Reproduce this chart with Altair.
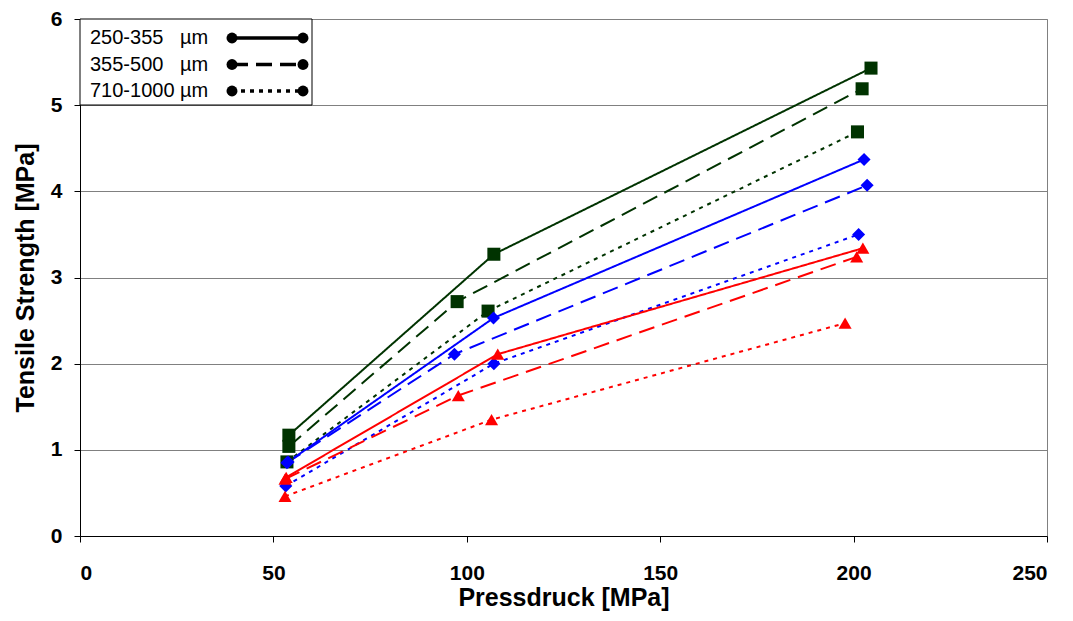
import altair as alt
import pandas as pd

# ---- data ----
size_labels = ["250-355\u00a0\u00a0\u00a0µm", "355-500\u00a0\u00a0\u00a0µm", "710-1000 µm"]
materials = ["green", "blue", "red"]

green_solid_x = [54.0, 107.0, 204.5]
green_solid_y = [1.17, 3.27, 5.43]
green_dashed_x = [54.0, 97.5, 202.2]
green_dashed_y = [1.04, 2.72, 5.19]
green_dotted_x = [53.5, 105.5, 201.0]
green_dotted_y = [0.86, 2.61, 4.69]

blue_solid_x = [53.8, 106.9, 202.7]
blue_solid_y = [0.86, 2.53, 4.37]
blue_dashed_x = [53.5, 96.8, 203.5]
blue_dashed_y = [0.85, 2.11, 4.07]
blue_dotted_x = [53.2, 107.0, 201.3]
blue_dotted_y = [0.58, 2.00, 3.50]

red_solid_x = [53.3, 108.0, 202.4]
red_solid_y = [0.68, 2.11, 3.34]
red_dashed_x = [53.0, 97.8, 200.8]
red_dashed_y = [0.66, 1.63, 3.24]
red_dotted_x = [53.0, 106.4, 197.8]
red_dotted_y = [0.46, 1.35, 2.47]

series = [
    ("green", size_labels[0], green_solid_x, green_solid_y),
    ("green", size_labels[1], green_dashed_x, green_dashed_y),
    ("green", size_labels[2], green_dotted_x, green_dotted_y),
    ("blue", size_labels[0], blue_solid_x, blue_solid_y),
    ("blue", size_labels[1], blue_dashed_x, blue_dashed_y),
    ("blue", size_labels[2], blue_dotted_x, blue_dotted_y),
    ("red", size_labels[0], red_solid_x, red_solid_y),
    ("red", size_labels[1], red_dashed_x, red_dashed_y),
    ("red", size_labels[2], red_dotted_x, red_dotted_y),
]
rows = []
for mat, sz, xs, ys in series:
    for x, y in zip(xs, ys):
        rows.append({"material": mat, "size": sz, "press": x, "strength": y,
                     "series": mat + "|" + sz})
df = pd.DataFrame(rows)
legend_df = pd.DataFrame({"size": size_labels})
box_df = pd.DataFrame({"k": [0]})

FONT = "Liberation Sans"
color_scale = alt.Scale(domain=materials, range=["#003300", "#0000FF", "#FF0000"])
shape_scale = alt.Scale(domain=materials, range=["square", "diamond", "triangle-up"])
dash_scale = alt.Scale(domain=size_labels, range=[[1, 0], [16, 8], [4, 5]])

x_enc = alt.X("press:Q", scale=alt.Scale(domain=[0, 250]),
              axis=alt.Axis(title="Pressdruck [MPa]", values=[0, 50, 100, 150, 200, 250],
                            format="d", grid=False, tickSize=6, labelPadding=20,
                            titlePadding=2))
y_enc = alt.Y("strength:Q", scale=alt.Scale(domain=[0, 6]),
              axis=alt.Axis(title="Tensile Strength [MPa]", values=[0, 1, 2, 3, 4, 5, 6],
                            format="d", grid=True, tickSize=6, labelPadding=12,
                            titlePadding=12))

lines = alt.Chart(df).mark_line(strokeWidth=2).encode(
    x=x_enc,
    y=y_enc,
    color=alt.Color("material:N", scale=color_scale, legend=None),
    strokeDash=alt.StrokeDash("size:N", scale=dash_scale, legend=None),
    detail="series:N",
)

points = alt.Chart(df).mark_point(filled=True, size=170, opacity=1).encode(
    x=x_enc,
    y=y_enc,
    color=alt.Color("material:N", scale=color_scale, legend=None),
    shape=alt.Shape("material:N", scale=shape_scale, legend=None),
)

main = alt.layer(lines, points)

# ---- legend box (top-left, inside the plot) ----
leg_y = alt.Y("size:N",
              scale=alt.Scale(type="point", domain=size_labels, range=[19, 72], padding=0),
              axis=None)

leg_box = alt.Chart(box_df).mark_rect(fill="white", stroke="black", strokeWidth=1).encode(
    x=alt.value(0), x2=alt.value(232), y=alt.value(0), y2=alt.value(86),
)
leg_rule = alt.Chart(legend_df).mark_rule(color="black", strokeWidth=3.5).encode(
    x=alt.value(152), x2=alt.value(223), y=leg_y,
    strokeDash=alt.StrokeDash("size:N", scale=dash_scale, legend=None),
)
leg_dot1 = alt.Chart(legend_df).mark_circle(color="black", size=120, opacity=1).encode(
    x=alt.value(152), y=leg_y,
)
leg_dot2 = alt.Chart(legend_df).mark_circle(color="black", size=120, opacity=1).encode(
    x=alt.value(223), y=leg_y,
)
leg_text = alt.Chart(legend_df).mark_text(
    align="left", baseline="middle", font=FONT, fontSize=20, color="black"
).encode(x=alt.value(10), y=leg_y, text="size:N")

legend_layer = alt.layer(leg_box, leg_rule, leg_dot1, leg_dot2, leg_text)

chart = alt.layer(main, legend_layer).resolve_scale(
    y="independent"
).properties(
    width=967, height=517,
    autosize=alt.AutoSizeParams(type="none"),
    padding={"left": 72, "top": 11, "right": 18, "bottom": 77},
).configure_view(stroke="#808080", strokeWidth=1).configure_axis(
    labelFont=FONT, labelFontSize=21, labelFontWeight="bold", labelColor="black",
    titleFont=FONT, titleFontSize=25, titleFontWeight="bold", titleColor="black",
    domainColor="black", tickColor="black", gridColor="#808080", gridWidth=1,
    gridOpacity=1,
)

chart.save("out.html", embed_options={"renderer": "svg", "actions": False})
